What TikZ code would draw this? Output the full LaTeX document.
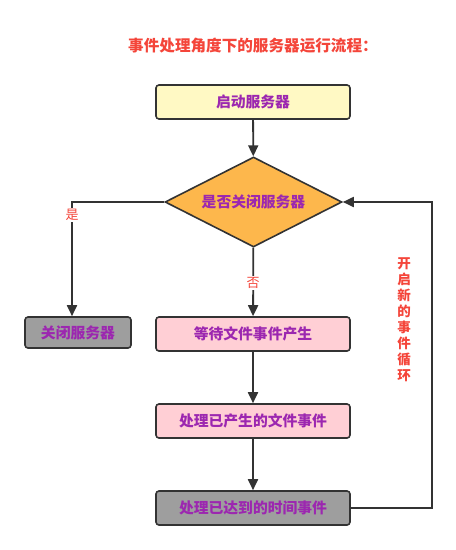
\documentclass[tikz,border=0pt]{standalone}
\usepackage{fontspec}
\newfontfamily\cjk{Noto Sans CJK SC}
\usetikzlibrary{arrows.meta,shapes.geometric}
\definecolor{ttlred}{HTML}{F4453A}
\definecolor{txtpur}{HTML}{9C27B0}
\definecolor{lncol}{HTML}{333333}
\definecolor{fyellow}{HTML}{FFF9C4}
\definecolor{forange}{HTML}{FDB74C}
\definecolor{fpink}{HTML}{FFCFD5}
\definecolor{fgray}{HTML}{9E9E9E}
\tikzset{
  boxbase/.style={draw=lncol, line width=1.6pt, rounded corners=3pt, inner sep=0pt,
    font=\cjk\bfseries\fontsize{14.8}{17}\selectfont, text=txtpur},
  wbox/.style={boxbase, minimum width=194pt, minimum height=34pt},
  dec/.style={draw=lncol, line width=1.6pt, diamond, aspect=1.97, inner sep=0pt,
    minimum width=177pt, minimum height=90pt, fill=forange,
    font=\cjk\bfseries\fontsize{14.8}{17}\selectfont, text=txtpur},
  conn/.style={draw=lncol, line width=1.8pt, -{Triangle[length=11pt,width=10pt]}},
  lbl/.style={font=\cjk\fontsize{13}{15}\selectfont, text=ttlred, fill=white, inner sep=1pt}
}
\begin{document}
\begin{tikzpicture}[x=1pt,y=-1pt]
\useasboundingbox (0,0) rectangle (456,550);
\node[font=\cjk\bfseries\fontsize{15.6}{18}\selectfont, text=ttlred] (title) at (253,46) {事件处理角度下的服务器运行流程：};
\node[wbox, fill=fyellow] (start) at (253,102) {启动服务器};
\node[dec] (dcs) at (253.5,202) {是否关闭服务器};
\node[boxbase, fill=fgray, minimum width=106pt, minimum height=31pt] (close) at (78,332.5) {关闭服务器};
\node[wbox, fill=fpink] (wait) at (253,334) {等待文件事件产生};
\node[wbox, fill=fpink] (proc) at (253,421) {处理已产生的文件事件};
\node[wbox, fill=fgray] (time) at (253,508) {处理已达到的时间事件};
\coordinate (cl) at (72,202);
\coordinate (lr1) at (432,508);
\coordinate (lr2) at (432,202);
\draw[conn] (start) -- (dcs);
\draw[conn] (dcs.west) -- (cl) -- (close.north -| cl);
\draw[conn] (dcs) -- (wait);
\draw[conn] (wait) -- (proc);
\draw[conn] (proc) -- (time);
\draw[conn] (time.east) -- (lr1) -- (lr2) -- (dcs.east);
\node[lbl] (yes) at (72,215) {是};
\node[lbl] (no) at (253,283) {否};
\node[font=\cjk\bfseries\fontsize{13.5}{16}\selectfont, text=ttlred, align=center] (loop) at (404,320) {开\\启\\新\\的\\事\\件\\循\\环};
\end{tikzpicture}
\end{document}
